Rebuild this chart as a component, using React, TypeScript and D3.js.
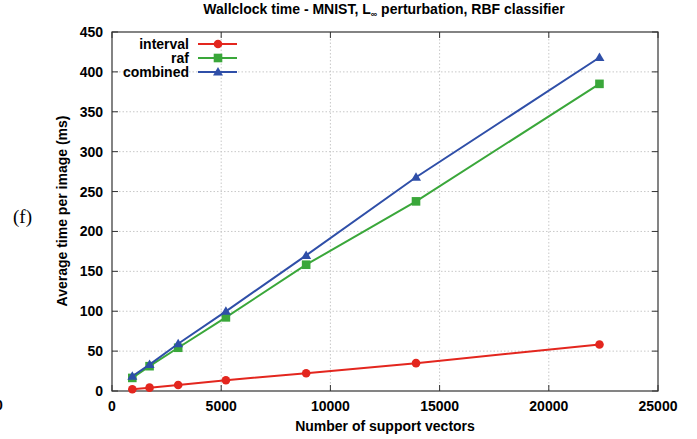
import React from "react";
import * as d3 from "d3";

const supportVectors = [930, 1720, 3030, 5215, 8890, 13920, 22320];
const intervalMs = [2.1, 4.2, 7.6, 13.5, 22.3, 34.9, 58.3];
const rafMs = [16.4, 31.1, 54.2, 92.3, 158.3, 237.7, 385];
const combinedMs = [18.5, 33.1, 59.2, 99.9, 170, 267.9, 418];
const xTicks = [0, 5000, 10000, 15000, 20000, 25000];
const yTicks = [0, 50, 100, 150, 200, 250, 300, 350, 400, 450];
const seriesNames = ["interval", "raf", "combined"];
const seriesColors = ["#e3261e", "#3aa73a", "#2f4fa8"];

const W = 697, H = 439;
const L = 112, R = 658, T = 32, B = 391;
const font = "'Liberation Sans', Arial, sans-serif";

function Marker({ kind, x, y, color }: { kind: number; x: number; y: number; color: string }) {
  if (kind === 0) return <circle cx={x} cy={y} r={4.3} fill={color} />;
  if (kind === 1) return <rect x={x - 4.3} y={y - 4.3} width={8.6} height={8.6} fill={color} />;
  const s = 5;
  return <path d={`M${x},${y - s}L${x + s},${y + s * 0.7}L${x - s},${y + s * 0.7}Z`} fill={color} />;
}

export default function App() {
  const x = d3.scaleLinear().domain([0, 25000]).range([L, R]);
  const y = d3.scaleLinear().domain([0, 450]).range([B, T]);
  const data = [intervalMs, rafMs, combinedMs];
  const line = d3.line<number>().x((_, i) => x(supportVectors[i])).y((d) => y(d));
  const legendY = [44, 58, 72];
  return (
    <svg width={W} height={H} style={{ position: "absolute", left: 0, top: 0 }} fontFamily={font}>
      <rect width={W} height={H} fill="#fff" />
      <text x={384} y={14} textAnchor="middle" fontSize={14} fontWeight="bold">
        Wallclock time - MNIST, L<tspan dy={3} fontSize={9}>∞</tspan><tspan dy={-3}> perturbation, RBF classifier</tspan>
      </text>
      {/* grid */}
      {xTicks.slice(1, -1).map((t) => (
        <line key={"gx" + t} x1={x(t)} x2={x(t)} y1={T} y2={B} stroke="#c8c8c8" strokeDasharray="1.5,2" />
      ))}
      {yTicks.slice(1, -1).map((t) => (
        <line key={"gy" + t} x1={L} x2={R} y1={y(t)} y2={y(t)} stroke="#c8c8c8" strokeDasharray="1.5,2" />
      ))}
      {/* ticks */}
      {xTicks.map((t) => (
        <g key={"tx" + t}>
          <line x1={x(t)} x2={x(t)} y1={B} y2={B - 6} stroke="#333" />
          <line x1={x(t)} x2={x(t)} y1={T} y2={T + 6} stroke="#333" />
          <text x={x(t)} y={411} textAnchor="middle" fontSize={14} fontWeight="bold">{t}</text>
        </g>
      ))}
      {yTicks.map((t) => (
        <g key={"ty" + t}>
          <line x1={L} x2={L + 6} y1={y(t)} y2={y(t)} stroke="#333" />
          <line x1={R} x2={R - 6} y1={y(t)} y2={y(t)} stroke="#333" />
          <text x={103} y={y(t) + 5} textAnchor="end" fontSize={14} fontWeight="bold">{t}</text>
        </g>
      ))}
      <rect x={L} y={T} width={R - L} height={B - T} fill="none" stroke="#333" strokeWidth={1.2} />
      {/* series */}
      {data.map((vals, k) => (
        <g key={"s" + k}>
          <path d={line(vals) || ""} fill="none" stroke={seriesColors[k]} strokeWidth={2} />
          {vals.map((v, i) => (
            <Marker key={i} kind={k} x={x(supportVectors[i])} y={y(v)} color={seriesColors[k]} />
          ))}
        </g>
      ))}
      {/* legend */}
      {seriesNames.map((n, k) => (
        <g key={"l" + k}>
          <text x={189} y={legendY[k] + 5} textAnchor="end" fontSize={14} fontWeight="bold">{n}</text>
          <line x1={198} x2={237} y1={legendY[k]} y2={legendY[k]} stroke={seriesColors[k]} strokeWidth={2} />
          <Marker kind={k} x={218} y={legendY[k]} color={seriesColors[k]} />
        </g>
      ))}
      <text x={385} y={431} textAnchor="middle" fontSize={14} fontWeight="bold">Number of support vectors</text>
      <text transform="translate(67,211) rotate(-90)" textAnchor="middle" fontSize={14} fontWeight="bold">Average time per image (ms)</text>
      <text x={13} y={223} fontFamily="'Liberation Serif', 'Times New Roman', serif" fontSize={19}>(f)</text>
      <text x={-5} y={410} fontSize={14} fontWeight="bold">0</text>
    </svg>
  );
}
